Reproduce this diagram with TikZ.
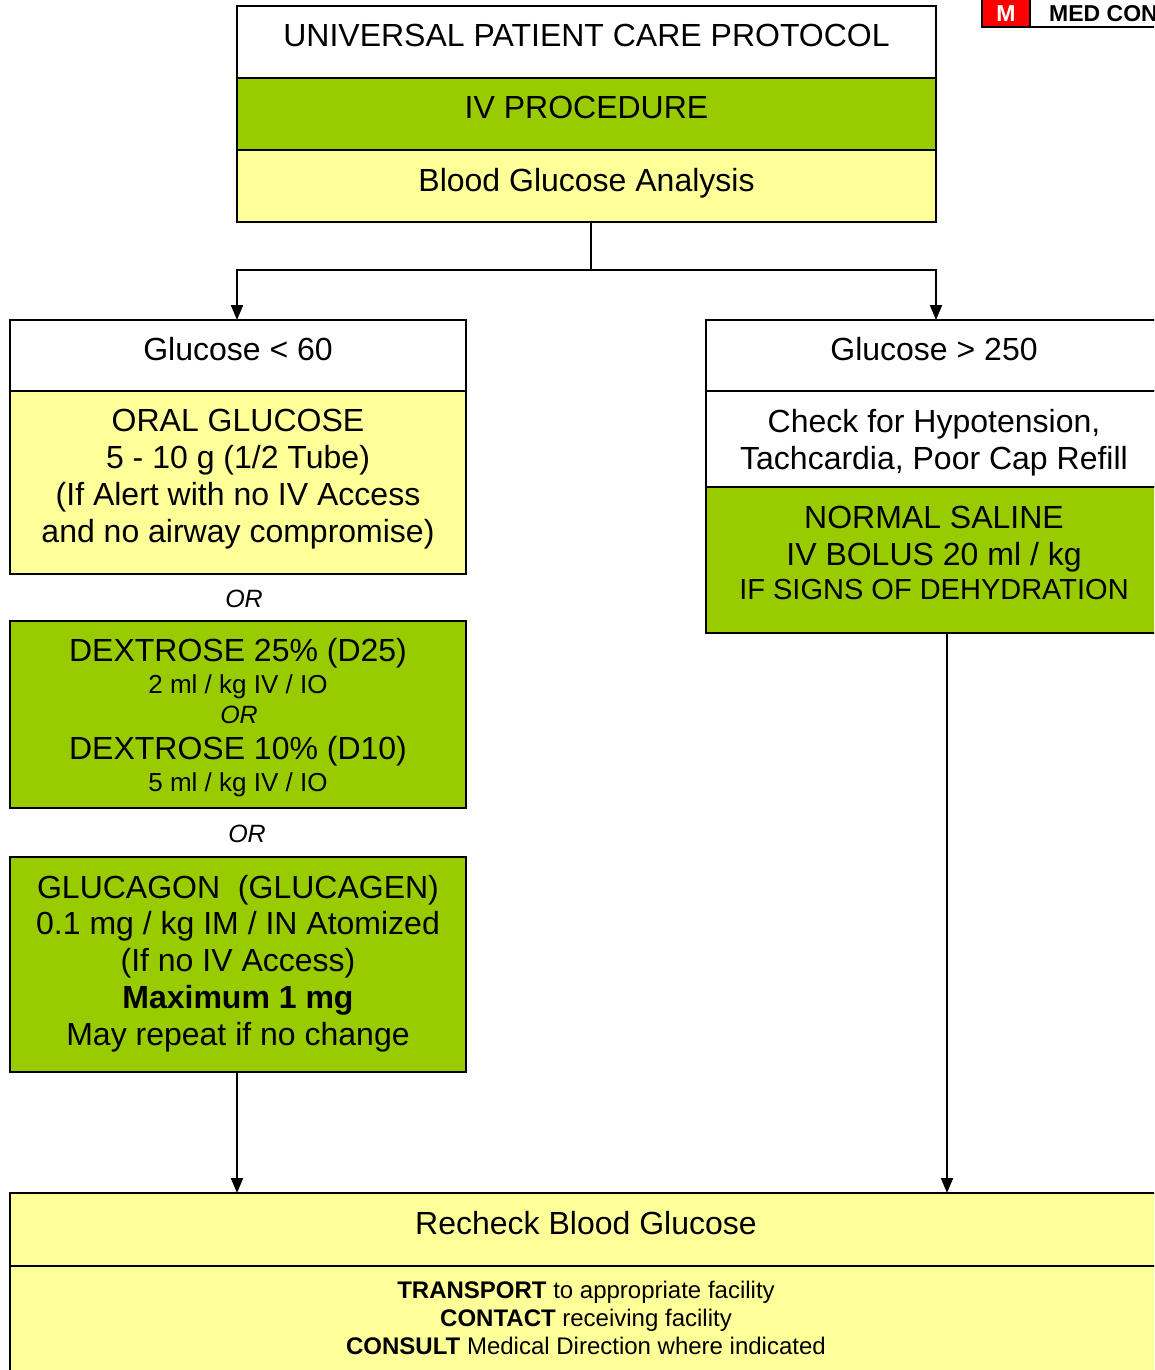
\documentclass[tikz,border=0pt]{standalone}
\usepackage{fontspec}
\setmainfont{Liberation Sans}
\usetikzlibrary{arrows.meta,calc}
\definecolor{ivgreen}{HTML}{99CC00}
\definecolor{glyellow}{HTML}{FFFF99}
\definecolor{mred}{HTML}{FF0000}
\begin{document}
\begin{tikzpicture}[x=1pt,y=1pt,
  box/.style={draw=black, line width=2pt, anchor=north west, inner sep=0pt, outer sep=0pt},
  big/.style={anchor=base, inner sep=0pt, font=\fontsize{32}{37}\selectfont},
  mid/.style={anchor=base, inner sep=0pt, font=\fontsize{29}{34}\selectfont},
  small/.style={anchor=base, inner sep=0pt, font=\fontsize{24}{28}\selectfont},
  dose/.style={anchor=base, inner sep=0pt, font=\fontsize{26}{30}\selectfont},
  orlab/.style={anchor=base, inner sep=0pt, font=\fontsize{25}{29}\selectfont\itshape},
  arr/.style={draw=black, line width=2pt, -{Triangle[width=12pt,length=15pt]}},
  conn/.style={draw=black, line width=2pt}
]
\useasboundingbox (0,0) rectangle (1154,-1370);
\clip (0,0) rectangle (1154,-1370);
\fill[white] (0,0) rectangle (1154,-1370);

% top-right tab
\node[box, fill=mred, minimum width=48pt, minimum height=60pt] (mtab) at (982,33) {};
\node[box, fill=white, minimum width=200pt, minimum height=60pt] (medtab) at (1030,33) {};
\node[anchor=base, inner sep=0pt, text=white, font=\fontsize{23}{27}\selectfont\bfseries] (mtxt) at (1006,-22) {M};
\node[anchor=base west, inner sep=0pt, font=\fontsize{23}{27}\selectfont\bfseries] (medtxt) at (1049,-22) {MED CONTROL};

% top box
\node[box, fill=white, minimum width=699pt, minimum height=72pt] (p1) at (237,-6) {};
\node[box, fill=ivgreen, minimum width=699pt, minimum height=72pt] (p2) at (237,-78) {};
\node[box, fill=glyellow, minimum width=699pt, minimum height=72pt] (p3) at (237,-150) {};
\node[big] (p1t) at (586.5,-47) {UNIVERSAL PATIENT CARE PROTOCOL};
\node[big] (p2t) at (586.5,-119) {IV PROCEDURE};
\node[big] (p3t) at (586.5,-191) {Blood Glucose Analysis};

% left column
\node[box, fill=white, minimum width=456pt, minimum height=71pt] (g1) at (10,-320) {};
\node[box, fill=glyellow, minimum width=456pt, minimum height=183pt] (g2) at (10,-391) {};
\node[big] (g1t) at (238,-360) {Glucose < 60};
\node[big] (g2a) at (238,-431) {ORAL GLUCOSE};
\node[big] (g2b) at (238,-468) {5 - 10 g (1/2 Tube)};
\node[big] (g2c) at (238,-505) {(If Alert with no IV Access};
\node[big] (g2d) at (238,-542) {and no airway compromise)};

\node[orlab] (or1) at (244,-607) {OR};

\node[box, fill=ivgreen, minimum width=456pt, minimum height=187pt] (dx) at (10,-621) {};
\node[big] (dxa) at (238,-661) {DEXTROSE 25\% (D25)};
\node[dose] (dxb) at (238,-693) {2 ml / kg IV / IO};
\node[orlab] (dxc) at (239,-723) {OR};
\node[big] (dxd) at (238,-759) {DEXTROSE 10\% (D10)};
\node[dose] (dxe) at (238,-791) {5 ml / kg IV / IO};

\node[orlab] (or2) at (247,-842) {OR};

\node[box, fill=ivgreen, minimum width=456pt, minimum height=215pt] (gl) at (10,-857) {};
\node[big] (gla) at (238,-898) {GLUCAGON\ \ (GLUCAGEN)};
\node[big] (glb) at (238,-934) {0.1 mg / kg IM / IN Atomized};
\node[big] (glc) at (238,-971) {(If no IV Access)};
\node[big, font=\fontsize{32}{37}\selectfont\bfseries] (gld) at (238,-1008) {Maximum 1 mg};
\node[big] (gle) at (238,-1045) {May repeat if no change};

% right column
\node[box, fill=white, minimum width=456pt, minimum height=71pt] (r1) at (706,-320) {};
\node[box, fill=white, minimum width=456pt, minimum height=96pt] (r2) at (706,-391) {};
\node[box, fill=ivgreen, minimum width=456pt, minimum height=146pt] (r3) at (706,-487) {};
\node[big] (r1t) at (934,-360) {Glucose > 250};
\node[big] (r2a) at (934,-432) {Check for Hypotension,};
\node[big] (r2b) at (934,-469) {Tachcardia, Poor Cap Refill};
\node[big] (r3a) at (934,-528) {NORMAL SALINE};
\node[big] (r3b) at (934,-565) {IV BOLUS 20 ml / kg};
\node[mid] (r3c) at (934,-599) {IF SIGNS OF DEHYDRATION};

% bottom box
\node[box, fill=glyellow, minimum width=1152pt, minimum height=73pt] (b1) at (10,-1193) {};
\node[box, fill=glyellow, minimum width=1152pt, minimum height=140pt] (b2) at (10,-1266) {};
\node[big] (b1t) at (586,-1234) {Recheck Blood Glucose};
\node[small] (b2a) at (586,-1298) {\textbf{TRANSPORT} to appropriate facility};
\node[small] (b2b) at (586,-1326) {\textbf{CONTACT} receiving facility};
\node[small] (b2c) at (586,-1354) {\textbf{CONSULT} Medical Direction where indicated};

% connectors
\coordinate (split) at (591,-270);
\draw[conn] (p3.south -| split) -- (split);
\draw[arr] (split) -| ([xshift=-1pt]g1.north);
\draw[arr] (split) -| ([xshift=2pt]r1.north);
\draw[arr] ([xshift=-1pt]gl.south) -- ([xshift=-1pt]gl.south |- b1.north);
\draw[arr] ([xshift=13pt]r3.south) -- ([xshift=13pt]r3.south |- b1.north);
\end{tikzpicture}
\end{document}
